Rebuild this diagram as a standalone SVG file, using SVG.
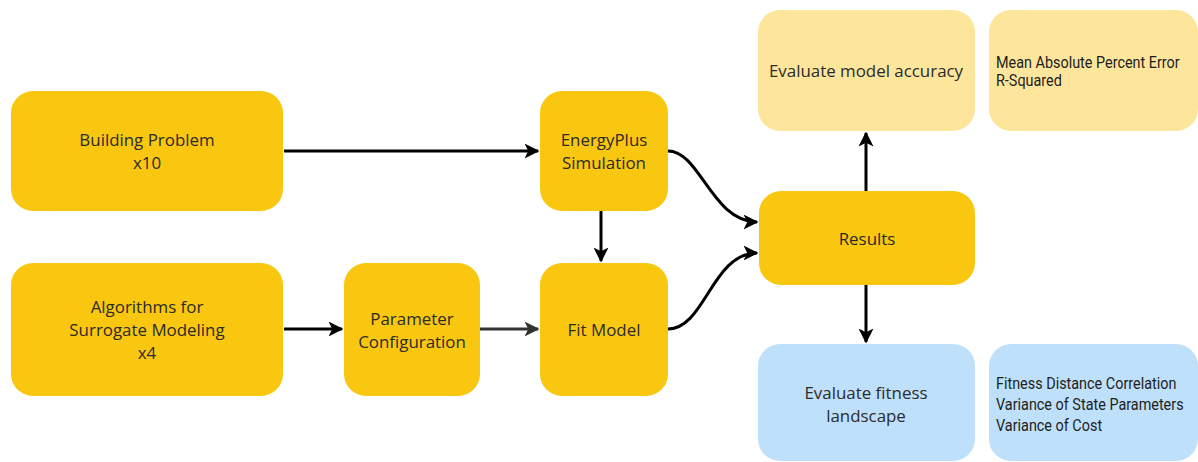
<svg xmlns="http://www.w3.org/2000/svg" width="1198" height="462" viewBox="0 0 1198 462">
  <style>
    .main { fill: #FAC710; }
    .soft { fill: #FDE69B; }
    .blue { fill: #BFE0FA; }
    .lbl { font-family: "Open Sans", sans-serif; font-size: 16.9px; fill: #2b2b2b; text-anchor: middle; }
    .note { font-family: Roboto, sans-serif; font-size: 16px; fill: #1e1e1e; }
    .edge { fill: none; stroke: #000000; stroke-width: 3; }
    .edge-grey { fill: none; stroke: #333333; stroke-width: 3; }
  </style>
  <defs>
    <marker id="arrow" viewBox="0 0 10 10" refX="9" refY="5" markerWidth="5" markerHeight="5" orient="auto" markerUnits="strokeWidth">
      <path d="M0,0 L10,5 L0,10 L2.5,5 Z" fill="#000000"/>
    </marker>
    <marker id="arrow-grey" viewBox="0 0 10 10" refX="9" refY="5" markerWidth="5" markerHeight="5" orient="auto" markerUnits="strokeWidth">
      <path d="M0,0 L10,5 L0,10 L2.5,5 Z" fill="#333333"/>
    </marker>
  </defs>
  <rect width="1198" height="462" fill="#ffffff"/>

  <g id="connectors">
    <path class="edge" d="M284,151 H538" marker-end="url(#arrow)"/>
    <path class="edge" d="M284,329 H342" marker-end="url(#arrow)"/>
    <path class="edge-grey" d="M480,329 H538" marker-end="url(#arrow-grey)"/>
    <path class="edge" d="M601,211 V261" marker-end="url(#arrow)"/>
    <path class="edge" d="M668,151 C700,151 712,222 757,222" marker-end="url(#arrow)"/>
    <path class="edge" d="M668,329 C705,329 712,253 757,253" marker-end="url(#arrow)"/>
    <path class="edge" d="M866,191 V133" marker-end="url(#arrow)"/>
    <path class="edge" d="M866,285 V342" marker-end="url(#arrow)"/>
  </g>

  <g id="building-problem">
    <rect class="main" x="11" y="91" width="272" height="120" rx="22"/>
    <text class="lbl" x="147" y="146">Building Problem</text>
    <text class="lbl" x="147" y="169">x10</text>
  </g>

  <g id="algorithms">
    <rect class="main" x="11" y="263" width="272" height="133" rx="22"/>
    <text class="lbl" x="147" y="313">Algorithms for</text>
    <text class="lbl" x="147" y="336">Surrogate Modeling</text>
    <text class="lbl" x="147" y="359">x4</text>
  </g>

  <g id="parameter-configuration">
    <rect class="main" x="344" y="263" width="136" height="133" rx="22"/>
    <text class="lbl" x="412" y="325">Parameter</text>
    <text class="lbl" x="412" y="348">Configuration</text>
  </g>

  <g id="energyplus-simulation">
    <rect class="main" x="540" y="91" width="128" height="120" rx="22"/>
    <text class="lbl" x="604" y="146">EnergyPlus</text>
    <text class="lbl" x="604" y="169">Simulation</text>
  </g>

  <g id="fit-model">
    <rect class="main" x="540" y="263" width="128" height="133" rx="22"/>
    <text class="lbl" x="604" y="336">Fit Model</text>
  </g>

  <g id="results">
    <rect class="main" x="759" y="191" width="216" height="94" rx="22"/>
    <text class="lbl" x="867" y="245">Results</text>
  </g>

  <g id="evaluate-accuracy">
    <rect class="soft" x="758" y="10" width="217" height="121" rx="22"/>
    <text class="lbl" x="866" y="77">Evaluate model accuracy</text>
  </g>

  <g id="accuracy-metrics">
    <rect class="soft" x="989" y="10" width="209" height="121" rx="22"/>
    <!-- narrow lettering: horizontally condensed Roboto -->
    <g transform="translate(996,0) scale(0.9,1)">
      <text class="note" x="0" y="68">Mean Absolute Percent Error</text>
      <text class="note" x="0" y="86">R-Squared</text>
    </g>
  </g>

  <g id="evaluate-landscape">
    <rect class="blue" x="758" y="344" width="217" height="117" rx="22"/>
    <text class="lbl" x="866" y="399">Evaluate fitness</text>
    <text class="lbl" x="866" y="422">landscape</text>
  </g>

  <g id="landscape-metrics">
    <rect class="blue" x="989" y="344" width="209" height="117" rx="22"/>
    <g transform="translate(996,0) scale(0.9,1)">
      <text class="note" x="0" y="389">Fitness Distance Correlation</text>
      <text class="note" x="0" y="410">Variance of State Parameters</text>
      <text class="note" x="0" y="431">Variance of Cost</text>
    </g>
  </g>
</svg>
